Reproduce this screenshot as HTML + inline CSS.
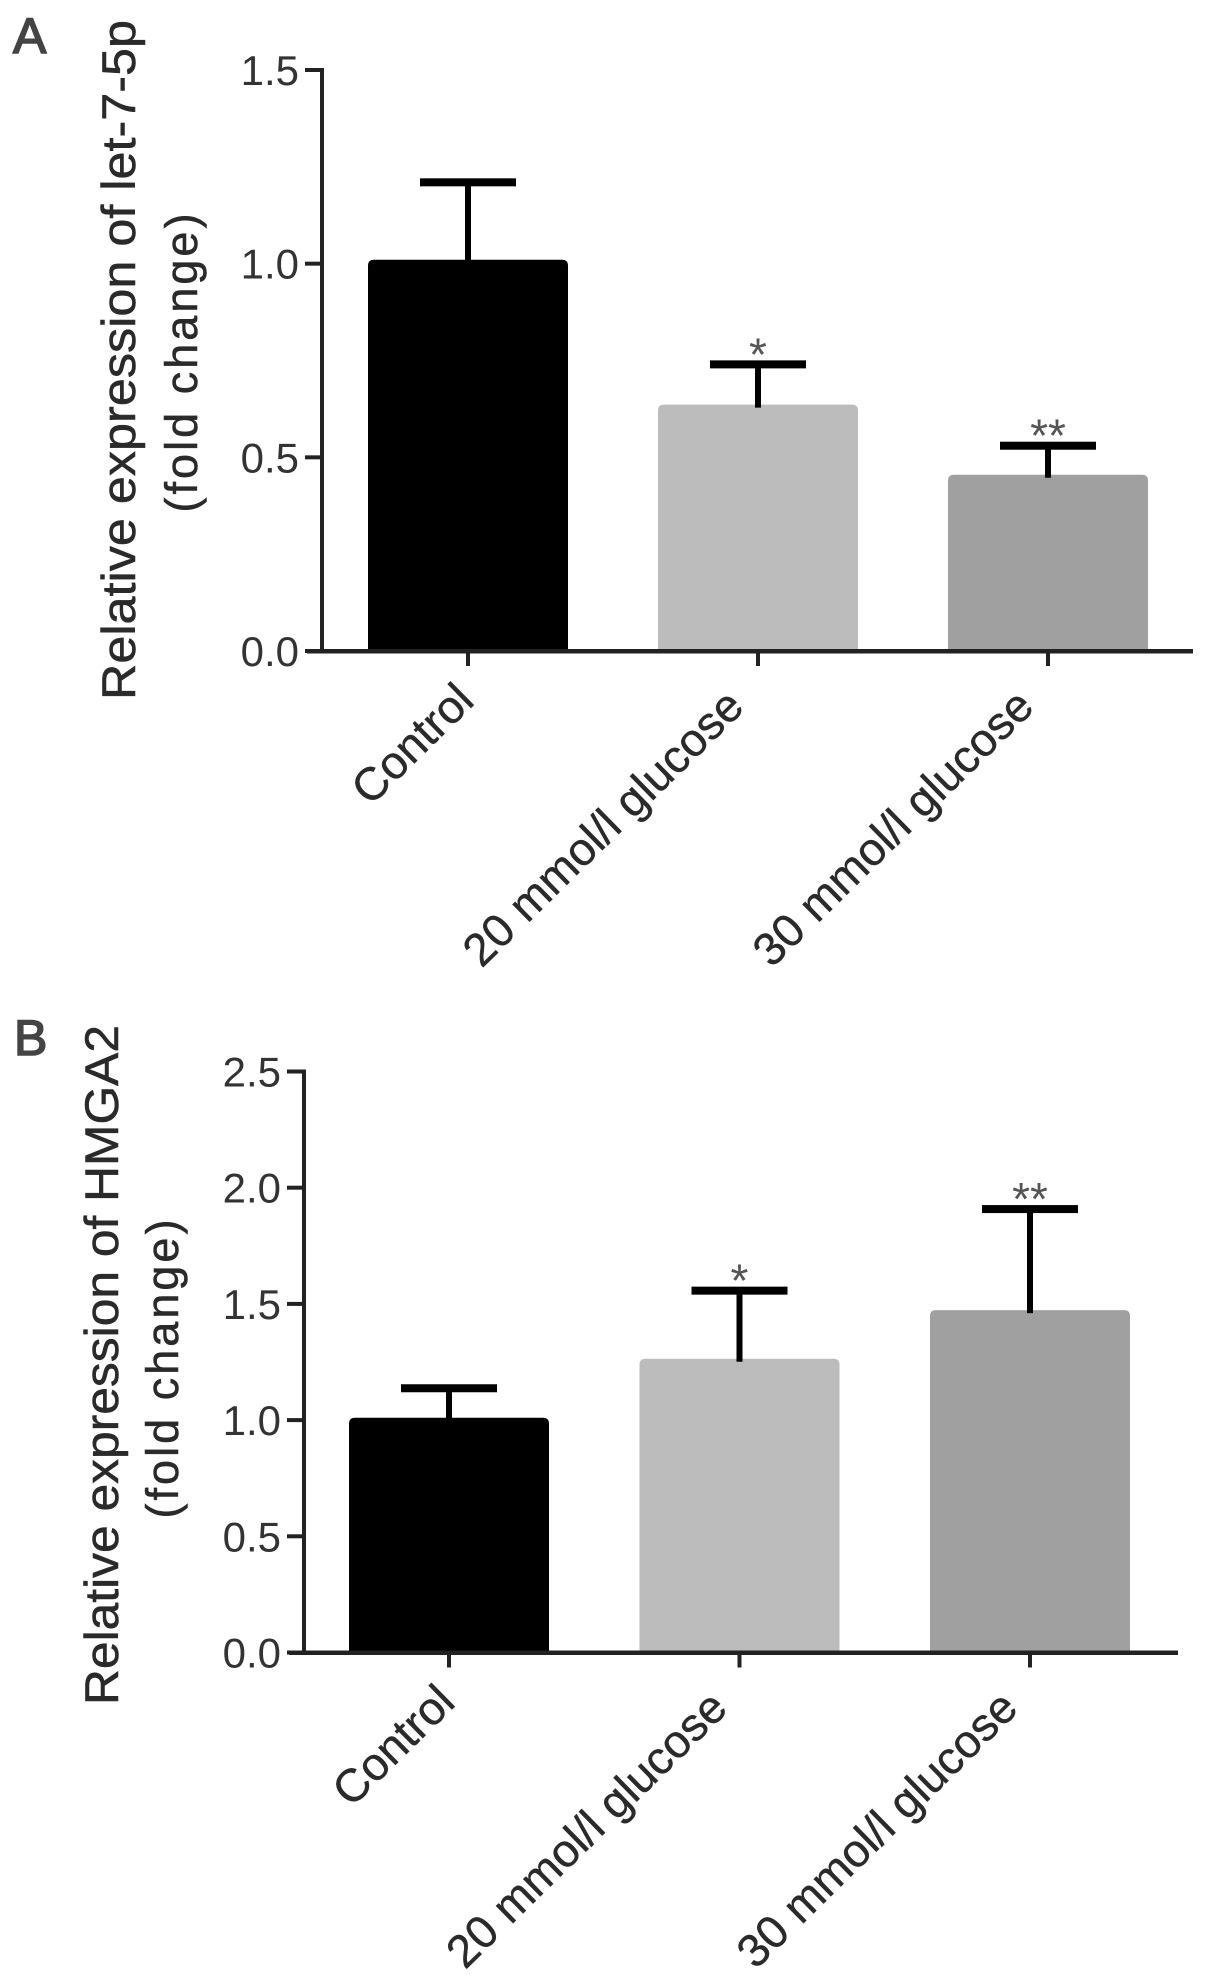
<!DOCTYPE html>
<html>
<head>
<meta charset="utf-8">
<title>Relative expression of let-7-5p and HMGA2</title>
<style>
html,body{margin:0;padding:0;background:#fff;}
svg{display:block;}
text{font-family:"Liberation Sans",sans-serif;}
</style>
</head>
<body>
<svg id="chart" xmlns="http://www.w3.org/2000/svg" width="1205" height="1988" viewBox="0 0 1205 1988">
<rect width="1205" height="1988" fill="#fff"/>
<g id="panel-a"></g>
<g id="panel-b"></g>
</svg>
<script>
const categories = ['Control', '20 mmol/l glucose', '30 mmol/l glucose'];
const significance = ['', '*', '**'];
const barColors = ['#000000', '#bcbcbc', '#a0a0a0'];

const panelATicks = [0, 0.5, 1.0, 1.5];
const panelATickLabels = ['0.0', '0.5', '1.0', '1.5'];
const panelAMeans = [1.01, 0.636, 0.455];
const panelAErrors = [1.21, 0.74, 0.53];

const panelBTicks = [0, 0.5, 1.0, 1.5, 2.0, 2.5];
const panelBTickLabels = ['0.0', '0.5', '1.0', '1.5', '2.0', '2.5'];
const panelBMeans = [1.01, 1.264, 1.473];
const panelBErrors = [1.137, 1.557, 1.908];

const NS = 'http://www.w3.org/2000/svg';
function make(tag, parent, attrs) {
  const el = document.createElementNS(NS, tag);
  for (const k in attrs) el.setAttribute(k, attrs[k]);
  parent.appendChild(el);
  return el;
}

function drawPanel(cfg) {
  const g = document.getElementById(cfg.id);
  const yScale = v => cfg.baseY - (v / cfg.yMax) * (cfg.baseY - cfg.topY);
  const xScale = i => cfg.firstX + i * cfg.stepX;

  // bars
  cfg.means.forEach((m, i) => {
    const cx = xScale(i), l = cx - 100, r = cx + 100, t = yScale(m), b = cfg.baseY, c = 6;
    const bar = make('path', g, {
      d: 'M' + l + ' ' + b + 'V' + (t + c) + 'Q' + l + ' ' + t + ' ' + (l + c) + ' ' + t +
         'H' + (r - c) + 'Q' + r + ' ' + t + ' ' + r + ' ' + (t + c) + 'V' + b + 'Z',
      fill: barColors[i]
    });
    
    
  });

  // error bars
  cfg.errors.forEach((e, i) => {
    const cx = xScale(i), top = yScale(e);
    const stem = make('rect', g, {x: cx - 3, y: top, width: 6, height: yScale(cfg.means[i]) + 3 - top, fill: '#000'});
    
    
    const cap = make('rect', g, {x: cx - 48, y: top - 4, width: 96, height: 8, fill: '#000'});
    
    
    if (significance[i]) {
      const star = make('text', g, {x: cx, y: top + 6, 'font-size': 46, 'text-anchor': 'middle', fill: '#555'});
      star.textContent = significance[i];
      
      
    }
  });

  // y axis
  const yAxis = make('rect', g, {x: cfg.axisX - 2, y: yScale(cfg.yMax) - 2, width: 4, height: cfg.baseY - yScale(cfg.yMax) + 2, fill: '#222'});
  
  

  cfg.ticks.forEach((v, i) => {
    const y = yScale(v);
    const tick = make('rect', g, {x: cfg.axisX - 17, y: y - 2, width: 17, height: 4, fill: '#222'});
    
    
    const lab = make('text', g, {x: cfg.axisX - 23, y: y + 15, 'font-size': 42, 'text-anchor': 'end', fill: '#333'});
    lab.textContent = cfg.tickLabels[i];
    
    
  });

  // x axis
  const xAxis = make('rect', g, {x: cfg.axisX - 15, y: cfg.baseY - 2, width: cfg.axisEnd - cfg.axisX + 15, height: 4.5, fill: '#222'});
  
  

  categories.forEach((c, i) => {
    const x = xScale(i);
    const tick = make('rect', g, {x: x - 2, y: cfg.baseY, width: 4, height: 15, fill: '#222'});
    
    
    const ax = x + (i === 0 ? 8 : cfg.labelDx), ay = cfg.baseY + (i === 0 ? 52 : 58);
    const lab = make('text', g, {
      transform: 'translate(' + ax + ' ' + ay + ') rotate(-44.5)',
      'font-size': 46, 'text-anchor': 'end', fill: '#2a2a2a',
      stroke: '#2a2a2a', 'stroke-width': 0.4
    });
    lab.textContent = c;
    
    
  });

  // axis titles
  const t1 = make('text', g, {
    transform: 'translate(' + cfg.title1X + ' ' + cfg.title1Y + ') rotate(-90) scale(1 1.06)',
    'font-size': 45, 'text-anchor': 'middle', fill: '#2a2a2a',
    stroke: '#2a2a2a', 'stroke-width': 0.5,
    textLength: cfg.title1Len, lengthAdjust: 'spacingAndGlyphs'
  });
  t1.textContent = cfg.title;
  
  
  const t2 = make('text', g, {
    transform: 'translate(' + cfg.title2X + ' ' + cfg.title2Y + ') rotate(-90)',
    'font-size': 45, 'text-anchor': 'middle', fill: '#2a2a2a',
    stroke: '#2a2a2a', 'stroke-width': 0.5,
    textLength: 299, lengthAdjust: 'spacing'
  });
  t2.textContent = '(fold change)';
  
  

  // panel letter
  const letter = make('text', g, {x: cfg.letterX, y: cfg.letterY, 'font-size': 50, fill: '#444', stroke: '#444', 'stroke-width': 1.6});
  letter.textContent = cfg.letter;
  
  
}

drawPanel({
  id: 'panel-a', key: 'a', letter: 'A', letterX: 13, letterY: 53,
  title: 'Relative expression of let-7-5p', title1X: 135, title1Y: 360, title1Len: 680,
  title2X: 197, title2Y: 363,
  ticks: panelATicks, tickLabels: panelATickLabels, means: panelAMeans, errors: panelAErrors,
  yMax: 1.5, topY: 70, baseY: 651, axisX: 322, axisEnd: 1193, firstX: 468, stepX: 290, labelDx: -12
});
drawPanel({
  id: 'panel-b', key: 'b', letter: 'B', letterX: 14, letterY: 1055,
  title: 'Relative expression of HMGA2', title1X: 118, title1Y: 1365, title1Len: 680,
  title2X: 178, title2Y: 1369,
  ticks: panelBTicks, tickLabels: panelBTickLabels, means: panelBMeans, errors: panelBErrors,
  yMax: 2.5, topY: 1071.5, baseY: 1652.5, axisX: 304, axisEnd: 1178, firstX: 449, stepX: 290.5, labelDx: -10
});
</script>
</body>
</html>
